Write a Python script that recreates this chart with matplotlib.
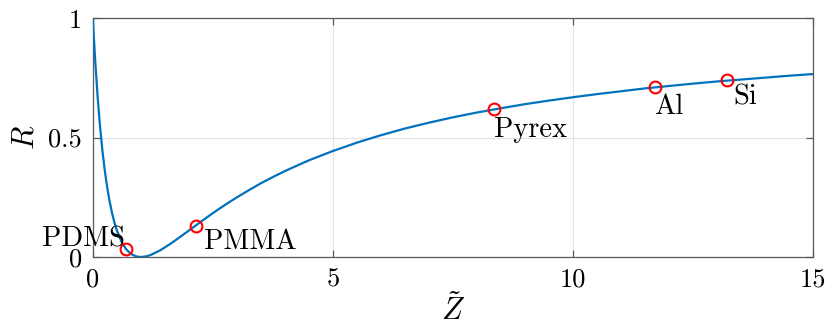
import matplotlib
matplotlib.use('Agg')
import matplotlib.pyplot as plt

plt.rcParams['font.family'] = 'serif'
plt.rcParams['font.serif'] = ['cmr10']
plt.rcParams['mathtext.fontset'] = 'cm'
plt.rcParams['axes.formatter.use_mathtext'] = True

# curve
Z = [0, 0.02, 0.05, 0.1, 0.15, 0.2, 0.25, 0.3, 0.35, 0.4, 0.45, 0.5, 0.6, 0.7,
     0.8, 0.9, 1.0, 1.1, 1.2, 1.4, 1.6, 1.8, 2.0, 2.25, 2.5, 2.75, 3.0, 3.25,
     3.5, 3.75, 4.0, 4.5, 5.0, 5.5, 6.0, 6.5, 7.0, 7.5, 8.0, 8.5, 9.0, 9.5,
     10.0, 10.5, 11.0, 11.5, 12.0, 12.5, 13.0, 13.5, 14.0, 14.5, 15.0]
R = [1.0, 0.923, 0.819, 0.669, 0.546, 0.444, 0.36, 0.29, 0.232, 0.184, 0.144,
     0.111, 0.0625, 0.031, 0.0123, 0.0028, 0.0, 0.0023, 0.0083, 0.0278, 0.0533,
     0.0816, 0.111, 0.148, 0.184, 0.218, 0.25, 0.28, 0.309, 0.335, 0.36, 0.405,
     0.444, 0.479, 0.51, 0.538, 0.5625, 0.585, 0.605, 0.623, 0.64, 0.655, 0.669,
     0.682, 0.694, 0.706, 0.716, 0.726, 0.735, 0.743, 0.751, 0.759, 0.766]

# materials
names = ['PDMS', 'PMMA', 'Pyrex', 'Al', 'Si']
mat_Z = [0.69, 2.15, 8.35, 11.7, 13.2]
mat_R = [0.033, 0.13, 0.62, 0.71, 0.74]

blue = '#0072BD'
axcol = '#5a5a5a'

fig = plt.figure(figsize=(8.29, 3.36), dpi=100)
ax = fig.add_axes([0.112, 0.235, 0.869, 0.711])

ax.plot(Z, R, color=blue, lw=1.6, zorder=3)
ax.plot(mat_Z, mat_R, ls='none', marker='o', ms=8.5, mfc='none', mec='red',
        mew=1.5, zorder=4)

# label positions (data coords)
lab_pos = {'PDMS': (0.67, 0.046, 'right'),
           'PMMA': (2.32, 0.033, 'left'),
           'Pyrex': (8.35, 0.502, 'left'),
           'Al': (11.68, 0.598, 'left'),
           'Si': (13.33, 0.64, 'left')}
for n in names:
    x, y, ha = lab_pos[n]
    ax.text(x, y, n, fontsize=20.5, ha=ha, va='baseline', zorder=5)

ax.set_xlim(0, 15)
ax.set_ylim(0, 1)
ax.set_xticks([0, 5, 10, 15])
ax.set_xticklabels(['0', '5', '10', '15'])
ax.set_yticks([0, 0.5, 1])
ax.set_yticklabels(['0', '0.5', '1'])
ax.grid(True, color='#e3e3e3', lw=0.8)
ax.set_axisbelow(True)

for s in ax.spines.values():
    s.set_color(axcol)
    s.set_linewidth(0.9)
ax.tick_params(direction='in', length=5, width=0.9, color=axcol,
               top=True, right=True, labelsize=19, pad=8)

ax.set_xlabel(r'$\tilde{Z}$', fontsize=22, labelpad=1)
ax.set_ylabel(r'$R$', fontsize=22, labelpad=6)

fig.savefig('out.png', dpi=100)
